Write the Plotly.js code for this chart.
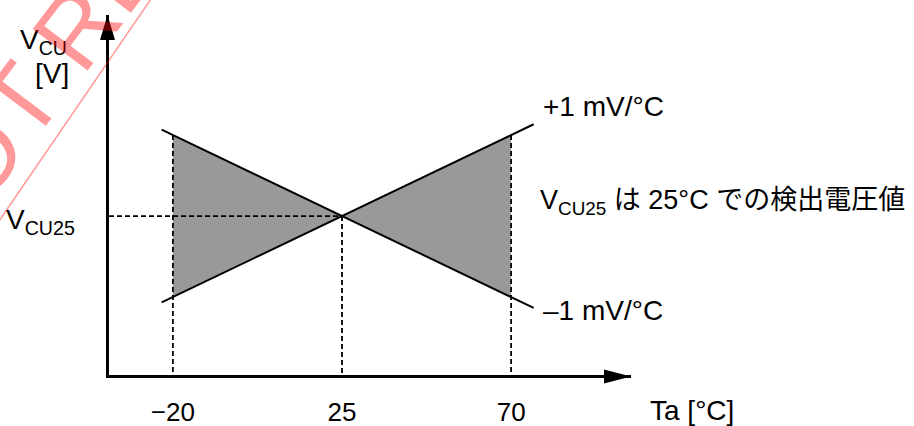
<!DOCTYPE html>
<html><head><meta charset="utf-8">
<script src="https://cdn.plot.ly/plotly-3.0.1.min.js"></script>
<style>html,body{margin:0;padding:0;background:#fff}</style>
</head><body><div id="chart" style="width:914px;height:426px"></div>
<script>
// ---- data (temperature in °C, detection-voltage deviation in mV from VCU25) ----
const tempTicks = [-20, 25, 70];
const tickLabels = ['\u221220', '25', '70'];
const lineTemps = [-23, 76];
const plusLine = [-48, 51];    // +1 mV/°C
const minusLine = [48, -51];   // -1 mV/°C
const shadeTemps = [-20, 25, 70];
const shadeUpper = [45, 0, 45];
const shadeLower = [-45, 0, -45];
const refTemp = 25;
const refDev = 0;

const xRange = [-37.0, 101.9];
const yRange = [-88.3, 111.7];

// pixel -> paper helpers (for text placement only)
const L = 109, R = 631, T = 15, B = 375;
const px = v => (v - L) / (R - L);
const py = v => (B - v) / (B - T);

const FONT = 'Liberation Sans, Arial, Noto Sans CJK JP, sans-serif';
const fs = 28;

// shaded polygon
const polyX = shadeTemps.concat(shadeTemps.slice().reverse());
const polyY = shadeUpper.concat(shadeLower.slice().reverse());

// dashed guides
const dX = [], dY = [];
shadeTemps.forEach((t, i) => { dX.push(t, t, null); dY.push(shadeUpper[i], yRange[0], null); });
dX.push(xRange[0], refTemp); dY.push(refDev, refDev);

const traces = [
  {x: polyX, y: polyY, type: 'scatter', mode: 'lines', fill: 'toself',
   fillcolor: '#999999', line: {width: 0}, hoverinfo: 'skip'},
  {x: dX, y: dY, type: 'scatter', mode: 'lines',
   line: {color: '#000', width: 1.8, dash: '5px,3px'}, hoverinfo: 'skip'},
  {x: lineTemps, y: plusLine, type: 'scatter', mode: 'lines', line: {color: '#000', width: 2}},
  {x: lineTemps, y: minusLine, type: 'scatter', mode: 'lines', line: {color: '#000', width: 2}}
];

const ann = (text, x, y, extra) => Object.assign({
  text: text, xref: 'paper', yref: 'paper', x: px(x), y: py(y),
  xanchor: 'left', yanchor: 'middle', showarrow: false,
  font: {family: FONT, size: fs, color: '#000'}
}, extra || {});

const layout = {
  width: 914, height: 426,
  margin: {l: L, r: 914 - R, t: T, b: 426 - B, pad: 0},
  paper_bgcolor: '#fff', plot_bgcolor: '#fff',
  showlegend: false,
  font: {family: FONT, size: fs, color: '#000'},
  xaxis: {range: xRange, showgrid: false, zeroline: false, showline: true,
          linecolor: '#000', linewidth: 3, ticks: '', tickvals: tempTicks, ticktext: tickLabels,
          tickfont: {family: FONT, size: 26, color: '#000'}, ticklabelstandoff: 12, fixedrange: true},
  yaxis: {range: yRange, showgrid: false, zeroline: false, showline: true,
          linecolor: '#000', linewidth: 3, showticklabels: false, ticks: '', fixedrange: true},
  shapes: [
    {type: 'path', xref: 'paper', yref: 'paper', xsizemode: 'pixel', ysizemode: 'pixel',
     xanchor: 1, yanchor: 0, path: 'M0,-1.5 L-27,5.5 L-27,-8.5 Z', fillcolor: '#000', line: {width: 0}},
    {type: 'path', xref: 'paper', yref: 'paper', xsizemode: 'pixel', ysizemode: 'pixel',
     xanchor: 0, yanchor: 1, path: 'M-1.5,0 L-9,-25 L6,-25 Z', fillcolor: '#000', line: {width: 0}},
    {type: 'line', xref: 'paper', yref: 'paper', x0: px(164), y0: py(-20), x1: px(-14), y1: py(240),
     line: {color: 'rgba(255,0,0,0.4)', width: 1.5}}
  ],
  annotations: [
    ann('V<sub>CU</sub>', 18, 42),
    ann('[V]', 33, 73),
    ann('V<sub>CU25</sub>', 4, 222),
    ann('+1 mV/°C', 541, 106),
    ann('V<sub>CU25</sub> は 25°C での検出電圧値', 538, 202, {font: {family: FONT, size: 27, color: '#000'}}),
    ann('\u20131 mV/°C', 541, 310),
    ann('Ta [°C]', 648, 410),
    {text: 'NOT RECOMMENDED FOR NEW DESIGN', xref: 'paper', yref: 'paper',
     x: px(500), y: py(-535), xanchor: 'center', yanchor: 'middle', showarrow: false,
     textangle: -53, font: {family: FONT, size: 100, color: 'rgba(255,0,0,0.4)'}}
  ]
};

Plotly.newPlot('chart', traces, layout, {displayModeBar: false, staticPlot: true});
</script>
</body></html>
